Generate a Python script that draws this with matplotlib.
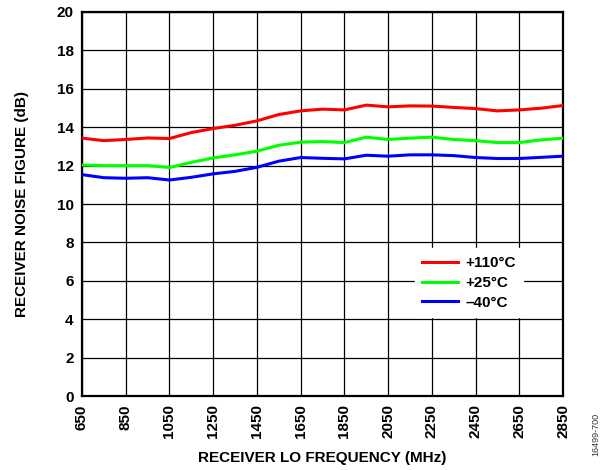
import matplotlib.pyplot as plt
import numpy as np

plt.rcParams['font.family'] = ['Liberation Sans', 'DejaVu Sans']
plt.rcParams['font.weight'] = 'bold'

# LO frequency points (MHz)
freq = [650, 750, 850, 950, 1050, 1150, 1250, 1350, 1450, 1550, 1650, 1750,
        1850, 1950, 2050, 2150, 2250, 2350, 2450, 2550, 2650, 2750, 2850]

# receiver noise figure (dB) per temperature
nf_110 = [13.43, 13.30, 13.36, 13.44, 13.41, 13.72, 13.93, 14.10, 14.33, 14.66, 14.85, 14.94,
          14.90, 15.15, 15.06, 15.11, 15.10, 15.03, 14.97, 14.85, 14.90, 14.99, 15.13]
nf_25 = [12.03, 12.00, 12.00, 12.00, 11.90, 12.17, 12.40, 12.56, 12.75, 13.06, 13.22, 13.25,
         13.20, 13.48, 13.36, 13.43, 13.48, 13.36, 13.30, 13.20, 13.20, 13.34, 13.43]
nf_m40 = [11.53, 11.37, 11.34, 11.37, 11.25, 11.39, 11.57, 11.70, 11.91, 12.23, 12.42, 12.38,
          12.35, 12.54, 12.49, 12.56, 12.56, 12.52, 12.42, 12.37, 12.37, 12.43, 12.49]

labels = ['+110°C', '+25°C', '–40°C']
colors = ['#ff0000', '#00ff00', '#0000ff']

x_ticks = np.arange(650, 2851, 200)
y_ticks = np.arange(0, 21, 2)

fig = plt.figure(figsize=(6.05, 4.70), dpi=100)
ax = fig.add_axes([0.1355, 0.1574, 0.7951, 0.8171])

for series, lab, col in zip([nf_110, nf_25, nf_m40], labels, colors):
    ax.plot(freq, series, color=col, lw=2.2, label=lab, zorder=3)

ax.set_xlim(650, 2850)
ax.set_ylim(0, 20)
ax.set_xticks(x_ticks)
ax.set_yticks(y_ticks)
ax.set_xticklabels([str(v) for v in x_ticks], rotation=90, fontsize=11, fontweight='bold')
ax.set_yticklabels([str(v) for v in y_ticks], fontsize=11, fontweight='bold')
ax.tick_params(length=0, pad=6)
ax.grid(True, color='black', lw=0.9)
for s in ax.spines.values():
    s.set_linewidth(1.6)

ax.set_xlabel('RECEIVER LO FREQUENCY (MHz)', fontsize=11, fontweight='bold', labelpad=9)
ax.set_ylabel('RECEIVER NOISE FIGURE (dB)', fontsize=11, fontweight='bold', labelpad=20)

leg = ax.legend(loc='lower right', bbox_to_anchor=(0.933, 0.185), frameon=True,
                fontsize=11, handlelength=2.35, handletextpad=0.45, labelspacing=0.38,
                borderpad=0.5, fancybox=False)
leg.get_frame().set_edgecolor('white')
leg.get_frame().set_facecolor('white')
leg.get_frame().set_alpha(1)
for t in leg.get_texts():
    t.set_fontweight('bold')

fig.text(0.985, 0.03, '16499-700', rotation=90, fontsize=6.5, color='#333333',
         fontweight='normal', ha='center', va='bottom')

fig.savefig('out.png', dpi=100)
